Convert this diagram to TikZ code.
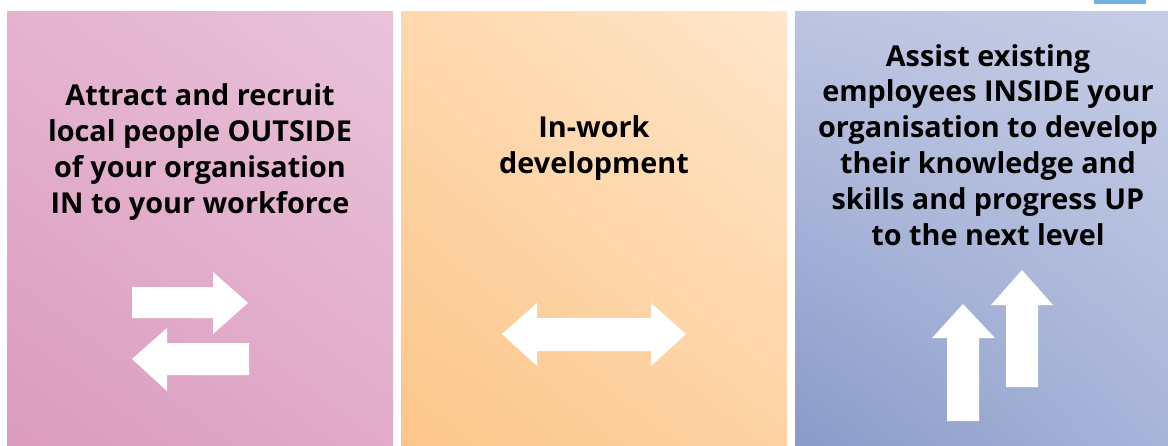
\documentclass[tikz,border=0pt]{standalone}
\usepackage{fontspec}
\usetikzlibrary{shadings}
\setmainfont{Open Sans}[BoldFont={Open Sans Bold}]
\definecolor{pinkUL}{HTML}{E4B3CF}
\definecolor{pinkUR}{HTML}{E9C3DA}
\definecolor{pinkLL}{HTML}{DB9BBE}
\definecolor{pinkLR}{HTML}{E1ABC9}
\definecolor{orUL}{HTML}{FED8AE}
\definecolor{orUR}{HTML}{FFE6CA}
\definecolor{orLL}{HTML}{FCC68A}
\definecolor{orLR}{HTML}{FDD3A3}
\definecolor{blUL}{HTML}{BCC4E1}
\definecolor{blUR}{HTML}{C6CDE5}
\definecolor{blLL}{HTML}{8A9BC9}
\definecolor{blLR}{HTML}{A8B4D9}
\definecolor{tabblue}{HTML}{72B2E2}
\tikzset{
  paneltext/.style={align=center, anchor=base, inner sep=0pt, text=black,
    font=\fontsize{28.8}{35.8}\selectfont\bfseries},
  warrow/.style={fill=white, draw=none}
}
\begin{document}
\begin{tikzpicture}[x=1pt,y=-1pt]
\useasboundingbox (0,0) rectangle (1168,445);
\fill[white] (0,0) rectangle (1168,445);
% panels
\shade[upper left=pinkUL, upper right=pinkUR, lower left=pinkLL, lower right=pinkLR] (7,11) rectangle (393,445);
\shade[upper left=orUL, upper right=orUR, lower left=orLL, lower right=orLR] (401,11) rectangle (787,445);
\shade[upper left=blUL, upper right=blUR, lower left=blLL, lower right=blLR] (795,11) rectangle (1168,445);
\fill[tabblue] (1094,0) rectangle (1146,4);
% texts (anchor = baseline of last line)
\node[paneltext] (t1) at (200,213) {Attract and recruit\\local people OUTSIDE\\of your organisation\\IN to your workforce};
\node[paneltext] (t2) at (594,173) {In-work\\development};
\node[paneltext] (t3) at (988,245) {Assist existing\\employees INSIDE your\\organisation to develop\\their knowledge and\\skills and progress UP\\to the next level};
% arrows panel 1
\fill[warrow] (132,287) -- (213,287) -- (213,272) -- (248,303) -- (213,334) -- (213,318) -- (132,318) -- cycle;
\fill[warrow] (249,343) -- (167,343) -- (167,328) -- (132,359) -- (167,391) -- (167,375) -- (249,375) -- cycle;
% double arrow panel 2
\fill[warrow] (502,334) -- (537,303) -- (537,318) -- (651,318) -- (651,303) -- (686,334) -- (651,366) -- (651,351) -- (537,351) -- (537,366) -- cycle;
% up arrows panel 3
\fill[warrow] (947,421) -- (947,338) -- (932,338) -- (963,304) -- (995,338) -- (979,338) -- (979,421) -- cycle;
\fill[warrow] (1006,387) -- (1006,305) -- (991,305) -- (1022,270) -- (1053,305) -- (1038,305) -- (1038,387) -- cycle;
\end{tikzpicture}
\end{document}
